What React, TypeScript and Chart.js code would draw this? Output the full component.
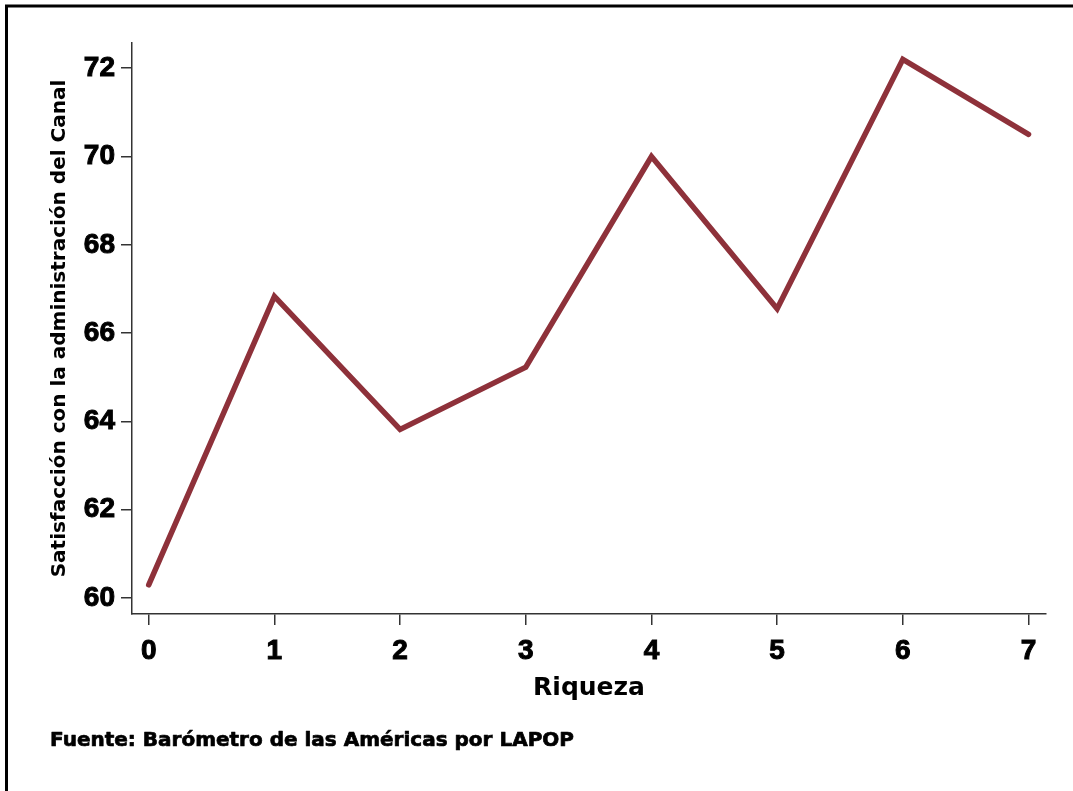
import React, { useEffect, useRef } from "react";
import { Chart, registerables } from "chart.js";

Chart.register(...registerables);

const categories: number[] = [0, 1, 2, 3, 4, 5, 6, 7];
const satisfaction: number[] = [60.3, 66.83, 63.82, 65.23, 70.0, 66.55, 72.2, 70.5];
const xTickValues: number[] = [0, 1, 2, 3, 4, 5, 6, 7];
const yTickValues: number[] = [60, 62, 64, 66, 68, 70, 72];

const xTitle = "Riqueza";
const yTitle = "Satisfacción con la administración del Canal";
const footerText = "Fuente: Barómetro de las Américas por LAPOP";

const LINE_COLOR = "rgb(142,49,58)";
const AXIS_COLOR = "#333333";

const framePlugin = {
  id: "frameAndFooter",
  afterDraw(chart: any) {
    const ctx = chart.ctx as CanvasRenderingContext2D;
    ctx.save();
    ctx.strokeStyle = "#000";
    ctx.lineWidth = 3;
    ctx.strokeRect(6.5, 6, 1100, 820);
    ctx.fillStyle = "#000";
    ctx.font = 'bold 20px "DejaVu Sans"';
    ctx.textBaseline = "alphabetic";
    ctx.textAlign = "left";
    ctx.lineWidth = 0.7;
    ctx.lineJoin = "round";
    ctx.strokeText(footerText, 50, 746);
    ctx.fillText(footerText, 50, 746);
    ctx.restore();
  },
};

export default function App() {
  const canvasRef = useRef<HTMLCanvasElement | null>(null);

  useEffect(() => {
    document.body.style.margin = "0";
    const canvas = canvasRef.current;
    if (!canvas) return;
    const chart = new Chart(canvas, {
      type: "line",
      data: {
        datasets: [
          {
            data: categories.map((c, i) => ({ x: c, y: satisfaction[i] })),
            borderColor: LINE_COLOR,
            borderWidth: 5.5,
            borderCapStyle: "round",
            borderJoinStyle: "miter",
            pointRadius: 0,
            fill: false,
            tension: 0,
          },
        ],
      },
      options: {
        animation: false,
        responsive: false,
        devicePixelRatio: 1,
        layout: { padding: { left: 0, top: 43, right: 27, bottom: 0 } },
        plugins: {
          legend: { display: false },
          tooltip: { enabled: false },
        },
        scales: {
          x: {
            type: "linear",
            min: -0.133,
            max: 7.139,
            afterBuildTicks: (scale: any) => {
              scale.ticks = xTickValues.map((v) => ({ value: v }));
            },
            afterFit: (scale: any) => {
              scale.height = 177;
            },
            ticks: {
              color: "#000",
              font: { family: '"Liberation Sans", Arial, sans-serif', size: 28, weight: "bold" },
              padding: 9,
              maxRotation: 0,
              autoSkip: false,
              textStrokeColor: "#000",
              textStrokeWidth: 1,
              callback: (v: any) => String(v),
            },
            grid: {
              display: true,
              drawOnChartArea: false,
              drawTicks: true,
              tickLength: 11,
              color: AXIS_COLOR,
              lineWidth: 1.5,
            },
            border: { display: true, color: AXIS_COLOR, width: 1.5 },
            title: {
              display: true,
              text: xTitle,
              color: "#000",
              font: { family: '"DejaVu Sans", sans-serif', size: 25, weight: "bold" },
              padding: { top: 0, bottom: 88 },
            },
          },
          y: {
            type: "linear",
            min: 59.64,
            max: 72.57,
            afterBuildTicks: (scale: any) => {
              scale.ticks = yTickValues.map((v) => ({ value: v }));
            },
            afterFit: (scale: any) => {
              scale.width = 132;
            },
            ticks: {
              color: "#000",
              font: { family: '"Liberation Sans", Arial, sans-serif', size: 28, weight: "bold" },
              padding: 6,
              autoSkip: false,
              textStrokeColor: "#000",
              textStrokeWidth: 1,
              callback: (v: any) => String(v),
            },
            grid: {
              display: true,
              drawOnChartArea: false,
              drawTicks: true,
              tickLength: 11,
              color: AXIS_COLOR,
              lineWidth: 1.5,
            },
            border: { display: true, color: AXIS_COLOR, width: 1.5 },
            title: {
              display: true,
              text: yTitle,
              color: "#000",
              font: { family: '"DejaVu Sans", sans-serif', size: 20, weight: "bold" },
              padding: { top: 48, bottom: 0 },
            },
          },
        },
      },
      plugins: [framePlugin],
    } as any);
    return () => chart.destroy();
  }, []);

  return (
    <div style={{ position: "absolute", left: 0, top: 0, width: 1073, height: 791, background: "#fff" }}>
      <canvas ref={canvasRef} width={1073} height={791} style={{ display: "block" }} />
    </div>
  );
}
